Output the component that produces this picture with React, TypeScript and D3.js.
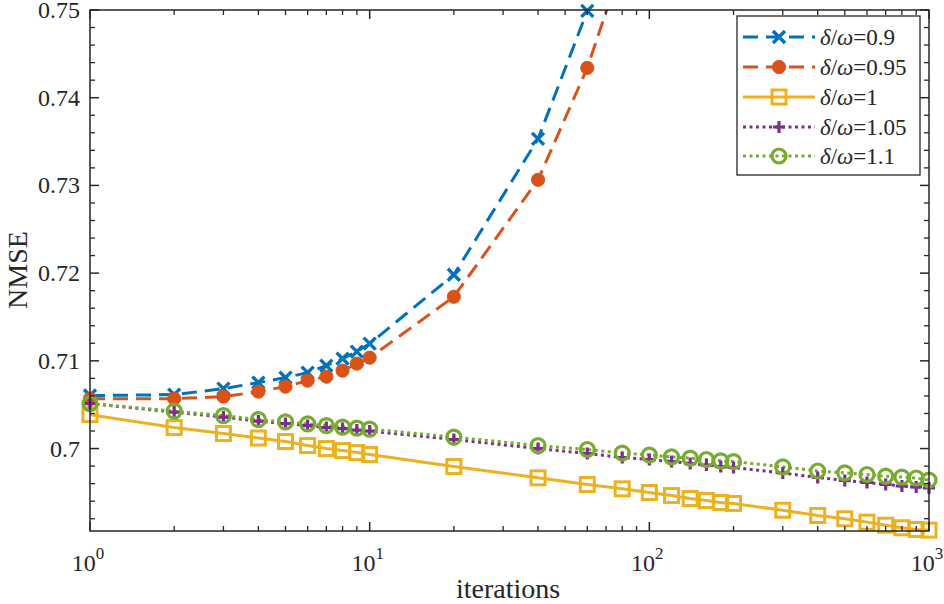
import React from "react";
import * as d3 from "d3";

const iterations = [1,2,3,4,5,6,7,8,9,10,20,40,60,80,100,120,140,160,180,200,300,400,500,600,700,800,900,1000];
const nmse090 = [0.70604,0.70615,0.70683,0.70752,0.70809,0.70866,0.70945,0.71025,0.71105,0.71196,0.71982,0.73531,0.7499,0.7625];
const nmse095 = [0.70569,0.70569,0.70592,0.70649,0.70706,0.70774,0.7082,0.70888,0.70968,0.71036,0.71731,0.73064,0.7434,0.7553];
const nmse100 = [0.70387,0.70239,0.70171,0.7012,0.7008,0.70034,0.7,0.69977,0.69954,0.69932,0.69795,0.69666,0.6959,0.69541,0.69499,0.69465,0.6943,0.69408,0.69385,0.69374,0.69297,0.69237,0.69199,0.69161,0.69126,0.69097,0.69077,0.6907];
const nmse105 = [0.70513,0.70416,0.70359,0.70313,0.70285,0.70262,0.70239,0.70228,0.70211,0.70199,0.70103,0.7,0.69943,0.69898,0.69875,0.69852,0.69829,0.69812,0.69795,0.69784,0.69721,0.6967,0.69636,0.69613,0.6959,0.69573,0.69562,0.6955];
const nmse110 = [0.70513,0.70427,0.70376,0.7033,0.70304,0.70281,0.70262,0.70245,0.70233,0.70222,0.70131,0.70034,0.69989,0.69949,0.69926,0.69905,0.6989,0.69875,0.6986,0.69852,0.69792,0.69744,0.69723,0.69704,0.69685,0.69675,0.69664,0.69641];
const seriesLabels = ["0.9", "0.95", "1", "1.05", "1.1"];
const yTicks = [0.7, 0.71, 0.72, 0.73, 0.74, 0.75];
const xTicks = [1, 10, 100, 1000];

const W = 944, H = 604;
const L = 90, R = 929, T = 10, B = 531;
const AX = "#262626";
const FONT = "'Liberation Serif', 'Times New Roman', serif";

type S = { vals: number[]; color: string; dash: string; marker: string };
const series: S[] = [
  { vals: nmse090, color: "#0072BD", dash: "15,8", marker: "x" },
  { vals: nmse095, color: "#D95319", dash: "15,8", marker: "o" },
  { vals: nmse100, color: "#EDB120", dash: "", marker: "s" },
  { vals: nmse105, color: "#7E2F8E", dash: "3,3.5", marker: "+" },
  { vals: nmse110, color: "#77AC30", dash: "3,3.5", marker: "c" },
];

function Marker({ kind, x, y, color }: { kind: string; x: number; y: number; color: string }) {
  if (kind === "x") {
    const h = 6;
    return <path d={`M${x - h},${y - h}L${x + h},${y + h}M${x - h},${y + h}L${x + h},${y - h}`} stroke={color} strokeWidth={3.4} fill="none" />;
  }
  if (kind === "o") return <circle cx={x} cy={y} r={6.6} fill={color} stroke={color} strokeWidth={1} />;
  if (kind === "s") return <rect x={x - 7} y={y - 7} width={14} height={14} fill="none" stroke={color} strokeWidth={3} />;
  if (kind === "+") {
    const h = 6;
    return <path d={`M${x - h},${y}L${x + h},${y}M${x},${y - h}L${x},${y + h}`} stroke={color} strokeWidth={3.2} fill="none" />;
  }
  return <circle cx={x} cy={y} r={7} fill="none" stroke={color} strokeWidth={3.2} />;
}

export default function App() {
  const x = d3.scaleLog().domain([1, 1000]).range([L, R]);
  const y = d3.scaleLinear().domain([0.6906, 0.75]).range([B, T]);
  const line = d3.line<[number, number]>().x(d => x(d[0])).y(d => y(d[1]));

  const minorX: number[] = [];
  for (let e = 0; e < 3; e++) for (let k = 2; k <= 9; k++) minorX.push(k * Math.pow(10, e));
  const minorY: number[] = [];
  for (let v = 0.692; v < 0.7499; v += 0.002) {
    const r = Math.round(v * 1000) / 1000;
    if (Math.abs(r * 100 - Math.round(r * 100)) > 1e-6) minorY.push(r);
  }

  const legY = [37, 67, 97, 127, 156];

  return (
    <div style={{ position: "fixed", left: 0, top: 0 }}>
      <svg width={W} height={H} style={{ display: "block", background: "#fff" }} fontFamily={FONT}>
        <defs>
          <clipPath id="plotclip"><rect x={L} y={T} width={R - L} height={B - T} /></clipPath>
        </defs>
        <rect x={0} y={0} width={W} height={H} fill="#fff" />
        <g clipPath="url(#plotclip)">
          {series.map((s, i) => {
            const pts = s.vals.map((v, j) => [iterations[j], v] as [number, number]);
            return <path key={i} d={line(pts) || ""} fill="none" stroke={s.color} strokeWidth={3} strokeDasharray={s.dash || undefined} />;
          })}
        </g>
        {series.map((s, i) => (
          <g key={i}>
            {s.vals.map((v, j) => v <= 0.7501 && v >= 0.6905 ? <Marker key={j} kind={s.marker} x={x(iterations[j])} y={y(v)} color={s.color} /> : null)}
          </g>
        ))}
        <rect x={L} y={T} width={R - L} height={B - T} fill="none" stroke={AX} strokeWidth={1.5} />
        {xTicks.map(t => (
          <g key={t}>
            <line x1={x(t)} x2={x(t)} y1={B} y2={B - 9} stroke={AX} strokeWidth={1.5} />
            <line x1={x(t)} x2={x(t)} y1={T} y2={T + 9} stroke={AX} strokeWidth={1.5} />
            <text x={x(t) - 2} y={571} textAnchor="middle" fontSize={24} fill={AX}>
              10<tspan dy={-12} fontSize={17}>{Math.round(Math.log10(t))}</tspan>
            </text>
          </g>
        ))}
        {minorX.map(t => (
          <g key={t}>
            <line x1={x(t)} x2={x(t)} y1={B} y2={B - 5} stroke={AX} strokeWidth={1.3} />
            <line x1={x(t)} x2={x(t)} y1={T} y2={T + 5} stroke={AX} strokeWidth={1.3} />
          </g>
        ))}
        {yTicks.map(t => (
          <g key={t}>
            <line x1={L} x2={L + 9} y1={y(t)} y2={y(t)} stroke={AX} strokeWidth={1.5} />
            <line x1={R} x2={R - 9} y1={y(t)} y2={y(t)} stroke={AX} strokeWidth={1.5} />
            <text x={80} y={y(t) + 8} textAnchor="end" fontSize={24} fill={AX}>{String(t)}</text>
          </g>
        ))}
        {minorY.map(t => (
          <g key={t}>
            <line x1={L} x2={L + 5} y1={y(t)} y2={y(t)} stroke={AX} strokeWidth={1.3} />
            <line x1={R} x2={R - 5} y1={y(t)} y2={y(t)} stroke={AX} strokeWidth={1.3} />
          </g>
        ))}
        <text x={508} y={598} textAnchor="middle" fontSize={28} fill={AX}>iterations</text>
        <text transform="translate(27,270) rotate(-90)" textAnchor="middle" fontSize={28} fill={AX}>NMSE</text>
        <rect x={737} y={16} width={183} height={159} fill="#fff" stroke={AX} strokeWidth={1.3} />
        {series.map((s, i) => (
          <g key={i}>
            <line x1={743} x2={815} y1={legY[i]} y2={legY[i]} stroke={s.color} strokeWidth={3} strokeDasharray={s.dash || undefined} />
            <Marker kind={s.marker} x={779} y={legY[i]} color={s.color} />
            <text x={820} y={legY[i] + 8} fontSize={23} fill={AX}>
              <tspan fontStyle="italic">δ</tspan>/<tspan fontStyle="italic">ω</tspan>={seriesLabels[i]}
            </text>
          </g>
        ))}
      </svg>
    </div>
  );
}
